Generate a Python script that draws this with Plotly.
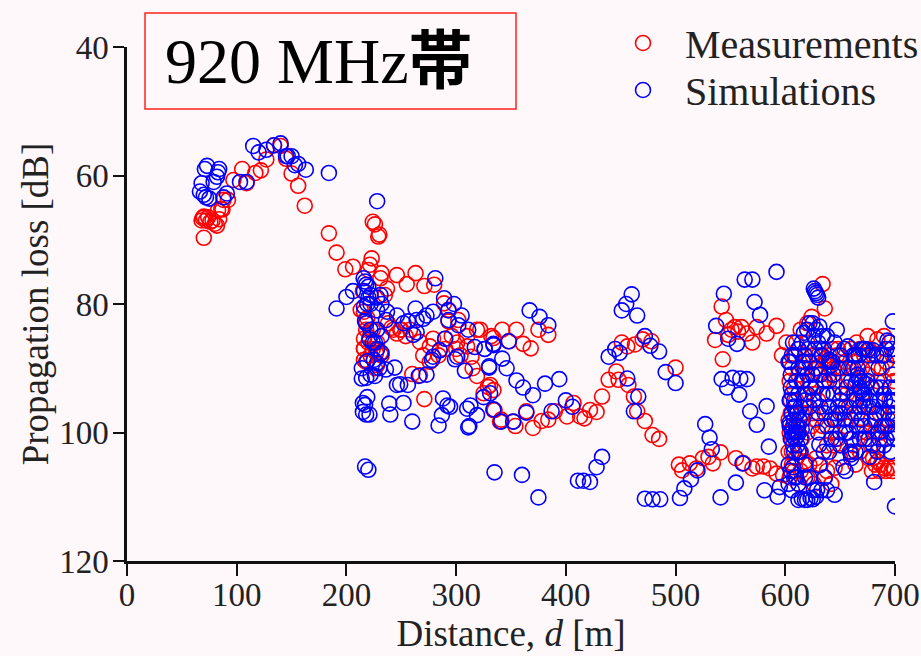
import plotly.graph_objects as go

meas_d = [70,68,69,70,72,74,76,78,80,82,84,86,88,83,87,92,97,105,109,117,122,127,134,140,145,150,156,162,184,191,199,206,
 224,226,229,230,223,221.5,220,232,246,263,255,271,280,237,231,235,215,213,216,217,219,238,243,246,249,241,267,279,290,289,293,293,302,285,276,301,310,314,319,332,
 216,221,216,227,231,216,228,260,267,271,319,331,325,334,340,
 322,334,342,355,348,361,368,375,384,329,334,335,341,354,352,364,370,378,384,390,401,407,413,417,422,428,433,439,446,448,457,462,465,472,479,485,
 451,456,463,470,478,500,503,506,513,519,525,530,534,541,555,562,570,574,580,586,592,598,
 542,546,536,543,548,554,560,565,570,574,583,592,551,557,634,636,
 597,601,604,605,603,604,603,606,610,613,615,618,612,610,616,620,625,627,630,634,636,637,638,640,643,647,650,655,660,665,670,675,680,684,690,695,698,
 645,650,640,630,625,620,615,610,607,605,612,618,622,628,632,638,645,650,660,662,655,668,672,678,685,688,680,682,686,690,692,694,697,699,670,665,658,648,642,690,695,698,675,
 612,618,622,626,630,635,640,644,648,652,656,660,664,668,672,676,680,684,688,692,696,699,618,624,628,634,638,644,648,652,656,662,666,670,674,678,682,686,690,694,697,604,608,614,620,626,636,642,664,668,676,679,684,687,606,608,610,614,620,624,608,606,606,609,
 216,220,224,228,232,218,222,226,218,224,290,296,300,304,310,315,284,276,270,250,254,258]
meas_l = [69.7,67,66.6,66.4,67,66.5,67.2,67,67.5,67.8,66.8,65.2,63.8,65.4,65.3,63.8,60.7,59,61.2,59.6,59.2,57.5,55.3,55.4,57.4,59.7,61.6,64.7,69,72,74.6,74.2,
 67.2,67.6,69.5,69.2,72.9,73.9,74.7,75.2,75.5,75.2,76.9,77.2,77,77.6,76,78.6,78,80.9,81.2,82.5,82.2,83,84,84.6,84,83.7,85.9,85.4,85.4,79.9,80.9,82.7,82.5,87.2,86.6,86,86.6,88.2,84,85,
 85.4,85.2,86.9,87.6,87.6,88.7,89.5,90.9,91.1,94.8,91.2,92.6,93.9,96.5,98.3,
 84,85.3,84,84,85.8,86.2,86.9,84,84.8,92.9,93.4,96.5,98,99,98.3,96.7,99.3,98.2,98,96.7,97.5,95.4,97.5,97.8,96.5,96.8,94.4,91.8,90.5,91.8,92.6,94.4,96.7,98.2,100.4,101,
 86,86.6,86.3,85.5,85.8,89.9,105,105.9,104.8,105.6,104,103.8,104.8,103.1,104,104.8,105.6,105.3,105.3,105.6,106.4,106.6,
 80.4,82.5,85.6,88.6,84.8,83.6,83.6,84.6,86,83.6,84.6,83.4,84,84.3,76.9,80.7,
 88,86,92,95,98,100,103,105,104,103,97,94,91,95,90,86,88,90,88,88,89,88.5,89,88,87,88,90,89,87,86,90,91,88,85.5,85,86,88,
 92,93,96,95,97,100,101,100,99,97,108,104.5,105,104,105,106,105.5,104,103,102,99,100,96,98,102,100,104,105,106,105.5,106,105.5,106,105.5,94,92,96,98,100,92,95,97,85,
 87,89,92,94,91,92,91,90,87,90,92,90,89,87,88,87,90,92,90,89,90,92,97,99,98,99,102,102,101,97,94,95,97,98,100,102,100,97,99,98,100,107,106,106,107,108,107,108,105,103,104,106,104.5,105,90,88,86,84,83,82,93,101,103,104,
 87,86,87,86,88,89,88,90,84,84,87,85,87,88,85,90,88,89,88,84,85,84]

sim_d = [73,71,84,68,82,79,70,72,75,66.5,88,91,83,109,103,115,120,127,134,140,146.5,150,153,163,145,156,184,228,
 191,200,206,215.7,217,220,222,216,219,217,231,228,236,237,246,263,256,252,264,270,273,279,281,289,298,293,293,305,302,311,261,264,290,285,279,278,301,299,317,326,334,330,308,
 221,226,228,232,219,225,228,214,244,236,226,218,214,246,249,256,219,215,217,239,252,273,266,288,292,294.5,287,310,313,319,215,218,221,240,260,284,311,312,217,220,331,325,
 367,376,384,334,348,326,342,330,346,355,361,370,381,394,400,387,406,364,334,341,352,335,360,375,411,416,422,428,433,
 460,455,451,465,472,477,485,439,445,449,491,500,456,466,462,472,479,486,504,508,514,520,527,531,533,541,555,561,581,593,585,
 544,537,548,556,563,570,592,572,577,542,552,547,559,565,558,568,583,574,626,627,628,629,630,
 604,606,608,610,612,605,607,609,611,613,606,608,610,612,604,606,609,612,614,615,607,611,605,608,612,605,610,616,620,604,609,606,612,618,615,620,622,617,625,628,631,607,603,621,627,630,634,633,
 604,608,614,618,622,628,632,636,640,644,648,638,645,650,642,635,630,
 640,641,642,643,647,657,662,671,675,680,693,698,666,631,659,660,677,681,653,631,700,
 595,603,606,612,618,623,628,629,638,645,618,603,607,605,610,615,620,625,
 660,663,666,668,670,672,675,665,668,672,677,680,683,686,690,693,695,698,700,685,688,692,696,699,682,678,672,665,660,655,650,655,660,668,690,695,698,700,697,695,692,685,690,696,664,669,674,667,671,
 606,609,611,615,618,622,625,628,632,636,640,644,648,635,638,626,612,616,623,626,630,634,638,642,646,650,654,652,656,658,662,664,645,650,654,667,670,673,676,683,688,672,676,680,684,686,691,694,697,699,691,687,683,679,676,669,663,658,650,646,640,655,660,664,690,700,700,620,616,614,618,622,626,633,636,612,608,
 218,222,224,216,218,220,222,228,232,228,232,230,222]
sim_l = [58.5,59,59,61.2,60.2,61,63,63.4,63.6,62.5,63.4,62.8,59.5,61,61,55.4,56.4,56,55.3,55,57,57,58.4,59.1,57,58.2,59.6,64,
 80.7,78.9,78,76,76.5,77.3,78.6,80.4,80,82.7,78.6,81,82.5,81.2,81.8,80.7,82.7,83,82.5,82.3,81.8,81.2,76,79.1,80,81,82.5,81.8,83.3,84,84.8,84.4,85.4,87.2,88.2,88.7,88.2,88.6,86.7,87,86.2,89.7,90.4,
 85.5,86,87,87.6,88.9,88.7,89.2,90,89.9,90.2,91.2,91.5,91.6,92.6,92.5,92.6,94.5,95.4,95.7,95.5,95.4,91,91.2,94.7,95.8,96,97.3,96.3,95.8,97.3,96.8,97.2,97.2,97.2,98.3,98.9,99.2,99,105.3,105.8,93.9,94.5,
 81,82,83.3,86.4,85.8,87,88.5,89.9,90,91.9,93,94.2,92.4,91.7,95,96.7,96,96.9,96.4,98.3,98.3,106.2,106.6,110.1,107.5,107.5,107.7,105.4,103.8,
 78.5,80,81,81.8,85,86.5,87.4,88.2,87,87.6,90.6,92.3,91.6,94.4,96.7,110.3,110.4,110.4,110.2,108.7,107.3,105.9,98.7,100.8,102.6,110.1,107.8,104.8,109,110,102.2,
 78.4,83.4,85.4,86.2,76.2,76.2,75,79.7,81.7,91.7,91.5,93,91.6,91.7,94.1,96.7,95.9,98.8,77.6,78,78.3,78.6,79,
 99,100,98,99,100,101,102,101,102,98,97,103,97,103,98.5,99.5,100,99,101,99.5,100.5,100.5,93,95,94,91,92,92,91,89,88,88,90,88,86,84,83,84.5,83,84,83.5,86,89,87,87,86,85,88,
 95,96,96,95,96,93,96,97,96,94,96,99,98,100,101,103,100,
 88.7,89,89.5,89,84,86.6,88,87,87.2,87.2,85.7,82.7,90,101.9,103,103.4,103.8,107.7,105.4,105.1,111.5,
 108.5,108,109,110.5,110.5,110.2,110,108.9,109,109.7,107,105,105.4,106,107,110.3,110.5,110.4,
 92,94,91,93,92,94,92,95,96,96,95,96,97,95,97,99,96,98,97,100,99,101,100,101,98,99,99,99,98,96,95,100,101,101,94,93,91,93,87,86,87,90,102,103,92.5,93.5,92.5,91.5,95,
 94,96,97,92,90,89,91,90,91,92,92,91,90,87,85,85,87,89,93,95,97,94,94,98,97,97,98,94,93,90,90,88,86,88,87,88,87,87,88,88,88,101,101,102,103,101,99,97,95,95,95,93,93,93,96,98,97,100,102,101,103,106,104,103,88,88,100,94,98,103,105,107,109,109,107,108,107,
 83,84,86,78,77,79,80,79,80,84,85,90,91]

tick_x = [0,100,200,300,400,500,600,700]
tick_y = [40,60,80,100,120]
series_names = ["Measurements","Simulations"]
series_colors = ["#ff0000","#0000ff"]
box_label = "920 MHz<b>帯</b>"

serif = "'Liberation Serif','Noto Sans CJK JP',serif"
W, H = 921, 656
L, R, T, B = 127, 895, 47, 561
def px(v): return (v-L)/(R-L)
def py(v): return (B-v)/(B-T)

fig = go.Figure()
fig.add_trace(go.Scatter(x=meas_d, y=meas_l, mode="markers", name=series_names[0],
    marker=dict(symbol="circle-open", size=15, color=series_colors[0], line=dict(width=1.6, color=series_colors[0]))))
fig.add_trace(go.Scatter(x=sim_d, y=sim_l, mode="markers", name=series_names[1],
    marker=dict(symbol="circle-open", size=15, color=series_colors[1], line=dict(width=1.6, color=series_colors[1]))))

axis_common = dict(showgrid=False, zeroline=False, showline=True, linecolor="#111", linewidth=2.5,
    ticks="outside", tickwidth=2.2, tickcolor="#111", tickfont=dict(family=serif, size=33, color="#222"))
fig.update_xaxes(range=[0,700], tickvals=tick_x, ticklen=12, ticklabelstandoff=-9,
    title=dict(text="Distance, <i>d</i> [m]", font=dict(family=serif, size=37, color="#222"), standoff=0), **axis_common)
fig.update_yaxes(range=[120,40], tickvals=tick_y, ticklen=11, ticklabelstandoff=-2,
    title=dict(text="Propagation loss [dB]", font=dict(family=serif, size=37, color="#222"), standoff=0), **axis_common)

fig.add_shape(type="rect", xref="paper", yref="paper", x0=px(145), x1=px(516), y0=py(109), y1=py(13),
    line=dict(color="#ff2020", width=1.5))
fig.add_annotation(xref="paper", yref="paper", x=px(164), y=py(61), xanchor="left", yanchor="middle",
    text=box_label, showarrow=False, font=dict(family=serif, size=64, color="#000"), borderpad=0)

for name, color, yc in zip(series_names, series_colors, [43, 90]):
    fig.add_shape(type="circle", xref="paper", yref="paper", x0=px(635.5), x1=px(650.5), y0=py(yc+7.5), y1=py(yc-7.5),
        line=dict(color=color, width=1.6))
    fig.add_annotation(xref="paper", yref="paper", x=px(684), y=py(yc+1), xanchor="left", yanchor="middle",
        text=name, showarrow=False, font=dict(family=serif, size=40, color="#222"), borderpad=0)

fig.update_layout(width=W, height=H, margin=dict(l=L,r=W-R,t=T,b=H-B,autoexpand=False), autosize=False,
    paper_bgcolor="#fff8fb", plot_bgcolor="rgba(0,0,0,0)", showlegend=False)
fig.write_html("out.html", config=dict(displayModeBar=False),
    post_script="document.body.style.margin='0';document.body.style.background='#fff8fb';window.dispatchEvent(new Event('resize'));")
